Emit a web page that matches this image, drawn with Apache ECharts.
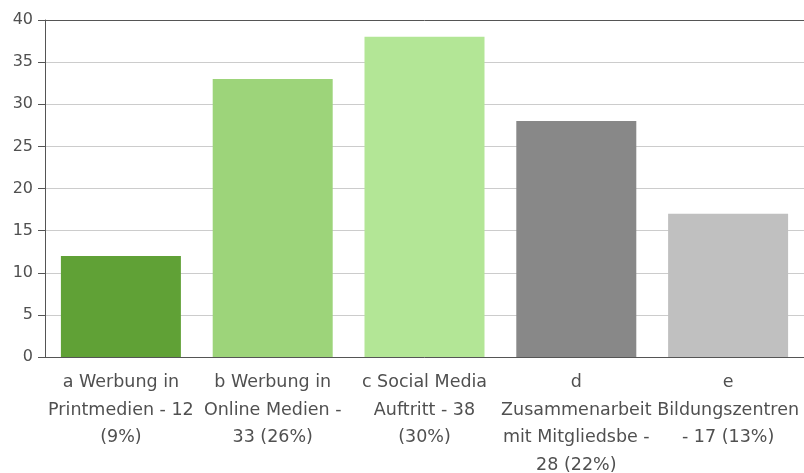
<!DOCTYPE html>
<html>
<head>
<meta charset="utf-8">
<script src="https://cdn.jsdelivr.net/npm/echarts@6/dist/echarts.min.js"></script>
<style>
    html, body { margin: 0; padding: 0; background: #fff; }
    #chart { width: 804px; height: 473px; }
</style>
</head>
<body>
<div id="chart"></div>
<script>
const categories = [
    "a Werbung in\nPrintmedien - 12\n(9%)",
    "b Werbung in\nOnline Medien -\n33 (26%)",
    "c Social Media\nAuftritt - 38\n(30%)",
    "d\nZusammenarbeit\nmit Mitgliedsbe -\n28 (22%)",
    "e\nBildungszentren\n- 17 (13%)"
];
const values = [12, 33, 38, 28, 17];
const barColors = ['#60a136', '#9dd47a', '#b3e696', '#888888', '#c0c0c0'];
// gridline colours, bottom to top: the 40 line is the dark top border
const gridColors = ['#cccccc', '#cccccc', '#cccccc', '#cccccc', '#cccccc',
    '#cccccc', '#cccccc', '#cccccc', '#555555'];

const chart = echarts.init(document.getElementById('chart'));
const option = {
    animation: false,
    textStyle: { fontFamily: 'DejaVu Sans, sans-serif' },
    grid: {
        left: 45,
        right: 0,
        top: 20,
        bottom: 116,
        containLabel: false,
        outerBoundsMode: 'none'
    },
    xAxis: {
        type: 'category',
        data: categories,
        axisLine: { lineStyle: { color: '#555', width: 1 } },
        axisTick: { alignWithLabel: true, length: 5, lineStyle: { color: '#444' } },
        axisLabel: {
            interval: 0,
            color: '#505050',
            fontSize: 17.5,
            fontFamily: 'DejaVu Sans, sans-serif',
            lineHeight: 27.5,
            margin: 12
        }
    },
    yAxis: {
        type: 'value',
        min: 0,
        max: 40,
        interval: 5,
        axisLine: { show: true, lineStyle: { color: '#555' } },
        axisTick: { show: true, length: 7, lineStyle: { color: '#555' } },
        axisLabel: {
            color: '#505050',
            fontSize: 16,
            fontFamily: 'DejaVu Sans, sans-serif',
            margin: 12
        },
        splitLine: { lineStyle: { color: gridColors, width: 1 } }
    },
    series: [{
        type: 'bar',
        data: values,
        barWidth: 120,
        itemStyle: {
            color: function (params) {
                return barColors[params.dataIndex];
            }
        }
    }]
};
chart.setOption(option);
</script>
</body>
</html>
